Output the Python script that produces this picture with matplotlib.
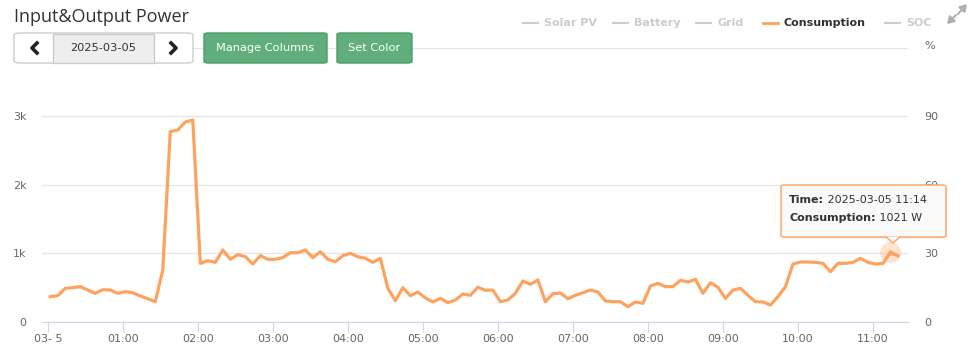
import matplotlib
matplotlib.use("Agg")
import matplotlib.pyplot as plt
from matplotlib.patches import FancyBboxPatch, Rectangle, Polygon, FancyArrowPatch
from matplotlib.lines import Line2D
import numpy as np

# consumption power (W), one reading every 6 minutes starting 00:02
start_min = 2
step_min = 6
consumption = [
    369, 384, 491, 500, 515, 466, 418, 470, 466, 418,
    442, 427, 379, 340, 296, 758, 2774, 2799, 2915, 2945,
    855, 894, 870, 1050, 914, 981, 952, 845, 967, 914,
    914, 938, 1010, 1010, 1050, 938, 1025, 914, 879, 967,
    1001, 952, 928, 870, 928, 491, 311, 500, 384, 437,
    350, 292, 345, 282, 321, 408, 389, 506, 462, 466,
    296, 321, 418, 598, 549, 612, 296, 413, 423, 340,
    389, 427, 466, 437, 306, 296, 296, 223, 292, 272,
    525, 564, 515, 515, 608, 583, 622, 418, 573, 506,
    345, 466, 491, 389, 296, 292, 248, 369, 515, 845,
    875, 875, 870, 855, 733, 855, 855, 870, 928, 870,
    845, 855, 1021, 962,
]
times = [start_min + i * step_min for i in range(len(consumption))]

xtick_min = [0, 60, 120, 180, 240, 300, 360, 420, 480, 540, 600, 660]
xtick_labels = ["03- 5", "01:00", "02:00", "03:00", "04:00", "05:00",
                "06:00", "07:00", "08:00", "09:00", "10:00", "11:00"]
ytick_vals = [0, 1000, 2000, 3000, 4000]
ytick_labels = ["0", "1k", "2k", "3k", ""]
pct_ticks = [0, 30, 60, 90]

legend_names = ["Solar PV", "Battery", "Grid", "Consumption", "SOC"]
hover_idx = 112
hover_label = "2025-03-05 11:14"

W, H = 973, 354
ORANGE = "#fda35f"
GRAY_TXT = "#666666"


def fx(x):
    return x / W


def fy(y):
    return 1 - y / H


fig = plt.figure(figsize=(W / 100, H / 100), dpi=100)
plt.rcParams['font.family'] = ['DejaVu Sans']

# plot area
ax = fig.add_axes([fx(42), fy(322), (908 - 42) / W, (322 - 47.6) / H])
ax.plot(times, consumption, color=ORANGE, lw=2.3, solid_joinstyle='round', zorder=3)
ax.set_xlim(-4.6, 688)
ax.set_ylim(0, 4000)
ax.set_xticks(xtick_min)
ax.set_xticklabels(xtick_labels)
ax.set_yticks(ytick_vals)
ax.set_yticklabels(ytick_labels)
ax.grid(axis='y', color='#e6e6e6', lw=1, zorder=0)
for s in ['top', 'right', 'left']:
    ax.spines[s].set_visible(False)
ax.spines['bottom'].set_color('#ccd6eb')
ax.tick_params(axis='x', length=7.5, color='#ccd6eb', labelcolor=GRAY_TXT,
               labelsize=8, pad=1.5)
ax.tick_params(axis='y', length=0, labelcolor=GRAY_TXT, labelsize=8, pad=11)

ax2 = ax.twinx()
ax2.set_ylim(0, 120)
ax2.set_yticks(pct_ticks)
ax2.tick_params(axis='y', length=0, labelcolor=GRAY_TXT, labelsize=8, pad=12)
for s in ax2.spines.values():
    s.set_visible(False)
fig.text(fx(930), fy(46), "%", ha='center', va='center', fontsize=8, color=GRAY_TXT)

# hovered point
hx, hy = times[hover_idx], consumption[hover_idx]
ax.plot(hx, hy, 'o', ms=15, color=ORANGE, alpha=0.3, mec='none', zorder=4)
ax.plot(hx, hy, '^', ms=5, color=ORANGE, mec='none', zorder=5)

# title
fig.text(fx(14), fy(17), "Input&Output Power", fontsize=13, color='#333333',
         va='center', ha='left', family=['Open Sans', 'DejaVu Sans'])

# date picker
fig.patches.append(FancyBboxPatch((fx(14), fy(63)), (193 - 14) / W, 30 / H,
                                  boxstyle="round,pad=0,rounding_size=0.006",
                                  transform=fig.transFigure, fc='white', ec='#cccccc', lw=1))
fig.patches.append(Rectangle((fx(53), fy(62.5)), (154 - 53) / W, 29 / H,
                             transform=fig.transFigure, fc='#eeeeee', ec='#cccccc', lw=1))
fig.text(fx(103.5), fy(48), "2025-03-05", fontsize=8.2, color='#333333', ha='center', va='center')
fig.lines.append(Line2D([fx(37), fx(32), fx(37)], [fy(43), fy(48), fy(53)],
                        transform=fig.transFigure, color='#222222', lw=2.6))
fig.lines.append(Line2D([fx(171), fx(176), fx(171)], [fy(43), fy(48), fy(53)],
                        transform=fig.transFigure, color='#222222', lw=2.6))

# buttons
for x0, x1, label in [(204, 327, "Manage Columns"), (337, 412, "Set Color")]:
    fig.patches.append(FancyBboxPatch((fx(x0), fy(63)), (x1 - x0) / W, 30 / H,
                                      boxstyle="round,pad=0,rounding_size=0.004",
                                      transform=fig.transFigure, fc='#5fae7b', ec='#4c9c68', lw=1))
    fig.text(fx((x0 + x1) / 2), fy(48), label, fontsize=8.2, color='white',
             ha='center', va='center')

# legend
leg_x = [523, 613, 696, 763, 885]
for x0, name in zip(leg_x, legend_names):
    active = name == "Consumption"
    fig.lines.append(Line2D([fx(x0), fx(x0 + 15)], [fy(23), fy(23)], transform=fig.transFigure,
                            color=ORANGE if active else '#cccccc', lw=2 if active else 1.5))
    fig.text(fx(x0 + 21), fy(23), name, fontsize=8, fontweight='bold',
             color='#333333' if active else '#cccccc', ha='left', va='center')

# expand icon
for (x0, y0), (x1, y1) in [((958, 14), (967, 4)), ((956, 15), (947, 24))]:
    fig.patches.append(FancyArrowPatch(
        (fx(x0), fy(y0)), (fx(x1), fy(y1)), transform=fig.transFigure,
        arrowstyle='-|>,head_length=4,head_width=2.5', color='#b0b0b0', lw=1.5,
        shrinkA=0, shrinkB=0))

# tooltip
fig.patches.append(FancyBboxPatch((fx(782), fy(238.5)), (946 - 781) / W, (237 - 185) / H,
                                  boxstyle="round,pad=0,rounding_size=0.004",
                                  transform=fig.transFigure, fc='#000000', ec='none', alpha=0.08))
fig.patches.append(FancyBboxPatch((fx(781), fy(237)), (946 - 781) / W, (237 - 185) / H,
                                  boxstyle="round,pad=0,rounding_size=0.004",
                                  transform=fig.transFigure, fc='#f9f9f9', ec=ORANGE, lw=1))
fig.patches.append(Polygon([(fx(886), fy(236.6)), (fx(900), fy(236.6)), (fx(893), fy(243))],
                           closed=True, transform=fig.transFigure, fc='#f9f9f9', ec='none'))
fig.lines.append(Line2D([fx(886), fx(893), fx(900)], [fy(237), fy(243), fy(237)],
                        transform=fig.transFigure, color=ORANGE, lw=1))

renderer = fig.canvas.get_renderer()
rows = [("Time:", " " + hover_label, 200), ("Consumption:", " %d W" % consumption[hover_idx], 218)]
for bold, rest, ypix in rows:
    t = fig.text(fx(789), fy(ypix), bold, fontsize=8, fontweight='bold', color='#333333',
                 ha='left', va='center')
    bb = t.get_window_extent(renderer=renderer)
    fig.text(bb.x1 / fig.bbox.width, fy(ypix), rest, fontsize=8, color='#333333',
             ha='left', va='center')

fig.savefig("out.png", dpi=100)
